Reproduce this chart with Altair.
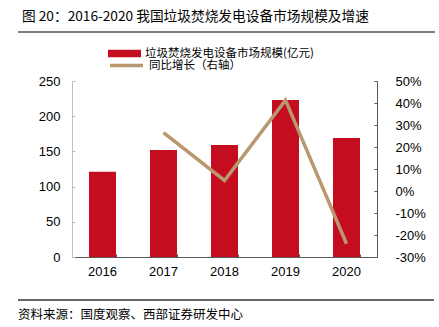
import altair as alt
import pandas as pd

years = ["2016", "2017", "2018", "2019", "2020"]
market = [121, 152, 159, 223, 169]          # 亿元
growth = [None, 26.5, 4.8, 41.3, -24.0]     # %

bar_name = "垃圾焚烧发电设备市场规模(亿元)"
line_name = "同比增长（右轴）"
title_text = "图 20：2016-2020 我国垃圾焚烧发电设备市场规模及增速"
source_text = "资料来源：国度观察、西部证券研发中心"

left_ticks = [0, 50, 100, 150, 200, 250]
right_ticks = [-30, -20, -10, 0, 10, 20, 30, 40, 50]

df = pd.DataFrame({"year": years, "market": market, "growth": growth})

CJK = "Noto Sans CJK SC"
LAT = "Liberation Sans"
RED = "#C40D1F"
TAN = "#B9976F"

xscale = alt.Scale(domain=years, paddingInner=0.56, paddingOuter=0.28)
yl = alt.Scale(domain=[0, 250], nice=False, zero=True)
yr = alt.Scale(domain=[-30, 50], nice=False, zero=False)

base = alt.Chart(df)

bars = base.mark_bar(size=27).transform_calculate(s1=f"'{bar_name}'").encode(
    x=alt.X("year:O", scale=xscale, title=None,
            axis=alt.Axis(orient="bottom", labelAngle=0, ticks=False, domain=True,
                          domainColor="#595959", labelFont=LAT, labelFontSize=13,
                          labelColor="#000", labelPadding=8)),
    y=alt.Y("market:Q", scale=yl, title=None,
            axis=alt.Axis(orient="left", values=left_ticks, ticks=False, grid=False,
                          domainColor="#bfbfbf", labelFont=LAT, labelFontSize=13,
                          labelColor="#000", labelPadding=12)),
    color=alt.Color("s1:N", scale=alt.Scale(domain=[bar_name], range=[RED]),
                    legend=alt.Legend(title=None, orient="none", legendX=36, legendY=-44,
                                      symbolType="M-1,-0.22H1V0.22H-1Z", symbolSize=1089,
                                      symbolStrokeWidth=0, labelFont=CJK, labelFontSize=11.5,
                                      labelColor="#000", labelOffset=4, padding=0,
                                      labelLimit=400)),
)

bar_ticks = base.mark_bar(opacity=0).encode(
    x=alt.X("year:O", scale=xscale, title=None,
            axis=alt.Axis(orient="bottom", offset=-3, tickBand="extent", ticks=True,
                          tickSize=3, tickColor="#595959", labels=False, domain=False)),
    y=alt.Y("market:Q", scale=yl, title=None,
            axis=alt.Axis(orient="left", offset=-3, values=left_ticks, ticks=True,
                          tickSize=3, tickColor="#bfbfbf", labels=False, domain=False,
                          grid=False)),
)

line = base.mark_line(strokeWidth=3.5).transform_calculate(s2=f"'{line_name}'").encode(
    x=alt.X("year:O", scale=xscale, axis=None),
    y=alt.Y("growth:Q", scale=yr, title=None,
            axis=alt.Axis(orient="right", values=right_ticks, ticks=False, grid=False,
                          domainColor="#595959", labelFont=LAT, labelFontSize=13,
                          labelColor="#000", labelPadding=18,
                          labelExpr="datum.value + '%'")),
    stroke=alt.Stroke("s2:N", scale=alt.Scale(domain=[line_name], range=[TAN]),
                      legend=alt.Legend(title=None, orient="none", legendX=36, legendY=-34,
                                        symbolType="stroke", symbolSize=1089,
                                        symbolStrokeWidth=3.5, labelFont=CJK,
                                        labelFontSize=11.5, labelColor="#000",
                                        labelOffset=4, padding=0, labelLimit=400)),
)

line_ticks = base.mark_line(opacity=0).encode(
    x=alt.X("year:O", scale=xscale, axis=None),
    y=alt.Y("growth:Q", scale=yr, title=None,
            axis=alt.Axis(orient="right", offset=-3, values=right_ticks, ticks=True,
                          tickSize=3, tickColor="#595959", labels=False, domain=False,
                          grid=False)),
)

one = alt.Data(values=[{"t": source_text, "h": title_text}])
title = alt.Chart(one).mark_text(align="left", baseline="middle", font=CJK,
                                 fontSize=13.7, color="#000").encode(
    x=alt.value(-50), y=alt.value(-64), text="h:N")
source = alt.Chart(one).mark_text(align="left", baseline="middle", font=CJK,
                                  fontSize=12.5, color="#000").encode(
    x=alt.value(-54), y=alt.value(234), text="t:N")

top_rule = alt.Chart(one).mark_rule(color="#808080", strokeWidth=2).encode(
    x=alt.value(-54), x2=alt.value(363), y=alt.value(-49))
bottom_rule = alt.Chart(one).mark_rule(color="#333333", strokeWidth=1.3).encode(
    x=alt.value(-54), x2=alt.value(362), y=alt.value(219))

chart = alt.layer(bars, bar_ticks, line, line_ticks, title, source, top_rule,
                  bottom_rule).resolve_scale(
    y="independent"
).resolve_axis(
    x="independent", y="independent"
).properties(
    width=305, height=176,
    autosize=alt.AutoSizeParams(type="none"),
    padding={"left": 72, "top": 81, "right": 62, "bottom": 70},
).configure_view(stroke=None)

chart.save("out.html", embed_options={"renderer": "svg", "actions": False})
